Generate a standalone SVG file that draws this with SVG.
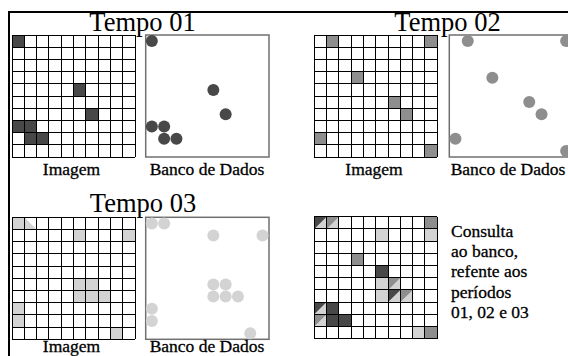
<svg xmlns="http://www.w3.org/2000/svg" xmlns:xlink="http://www.w3.org/1999/xlink" width="568" height="356" viewBox="0 0 568 356">
<style>
.d{fill:#484848}
.m{fill:#8e8e8e}
.l{fill:#d3d3d3}
.t{font-family:"Liberation Serif","Times New Roman",serif;fill:#000}
.title{font-size:26.5px;text-anchor:middle}
.lab{font-size:17.5px;text-anchor:middle;stroke:#000;stroke-width:0.3}
.txt{font-size:17.5px;stroke:#000;stroke-width:0.3}
.box{fill:#fff;stroke:#707070;stroke-width:1.5}
</style>
<defs>
<path id="grid" fill="none" stroke="#000" stroke-width="1" shape-rendering="crispEdges" d="M0,0V122M12.3,0V122M24.6,0V122M36.9,0V122M49.2,0V122M61.5,0V122M73.8,0V122M86.1,0V122M98.4,0V122M110.7,0V122M123,0V122M0,0H123M0,12.2H123M0,24.4H123M0,36.6H123M0,48.8H123M0,61H123M0,73.2H123M0,85.4H123M0,97.6H123M0,109.8H123M0,122H123"/>
<rect id="c" width="12.3" height="12.2"/>
<path id="tul" d="M0,0H12.3L0,12.2Z"/>
<path id="tll" d="M0,0L12.3,12.2H0Z"/>
<circle id="p" r="6"/>
</defs>
<rect width="568" height="356" fill="#fff"/>
<path d="M9,356V12H568" fill="none" stroke="#000" stroke-width="2"/>

<g id="tempo01">
<text class="t title" x="142.5" y="31">Tempo 01</text>
<g id="tempo01-imagem" transform="translate(12,35)">
<rect width="123" height="122" fill="#fff"/>
<use href="#c" class="d" x="0" y="0"/>
<use href="#c" class="d" x="61.5" y="48.8"/>
<use href="#c" class="d" x="73.8" y="73.2"/>
<use href="#c" class="d" x="0" y="85.4"/>
<use href="#c" class="d" x="12.3" y="85.4"/>
<use href="#c" class="d" x="12.3" y="97.6"/>
<use href="#c" class="d" x="24.6" y="97.6"/>
<use href="#grid"/>
</g>
<g id="tempo01-banco" transform="translate(145.7,35)">
<rect class="box" width="123.3" height="122"/>
<g class="d">
<use href="#p" x="6.15" y="6.1"/>
<use href="#p" x="67.65" y="54.9"/>
<use href="#p" x="79.95" y="79.3"/>
<use href="#p" x="6.15" y="91.5"/>
<use href="#p" x="18.45" y="91.5"/>
<use href="#p" x="18.45" y="103.7"/>
<use href="#p" x="30.75" y="103.7"/>
</g>
</g>
<text class="t lab" x="71.5" y="175.3">Imagem</text>
<text class="t lab" x="207" y="175.3">Banco de Dados</text>
</g>

<g id="tempo02">
<text class="t title" x="447.5" y="31">Tempo 02</text>
<g id="tempo02-imagem" transform="translate(314.3,35)">
<rect width="123" height="122" fill="#fff"/>
<g class="m">
<use href="#c" x="12.3" y="0"/>
<use href="#c" x="110.7" y="0"/>
<use href="#c" x="36.9" y="36.6"/>
<use href="#c" x="73.8" y="61"/>
<use href="#c" x="86.1" y="73.2"/>
<use href="#c" x="0" y="97.6"/>
<use href="#c" x="110.7" y="109.8"/>
</g>
<use href="#grid"/>
</g>
<g id="tempo02-banco" transform="translate(449.3,35)">
<rect class="box" width="123" height="122"/>
<g class="m">
<use href="#p" x="18.45" y="6.1"/>
<use href="#p" x="116.85" y="6.1"/>
<use href="#p" x="43.05" y="42.7"/>
<use href="#p" x="79.95" y="67.1"/>
<use href="#p" x="92.25" y="79.3"/>
<use href="#p" x="6.15" y="103.7"/>
<use href="#p" x="116.85" y="115.9"/>
</g>
</g>
<text class="t lab" x="374" y="175.3">Imagem</text>
<text class="t lab" x="508" y="175.3">Banco de Dados</text>
</g>

<g id="tempo03">
<text class="t title" x="143" y="212.3">Tempo 03</text>
<g id="tempo03-imagem" transform="translate(12,217.3)">
<rect width="123" height="122" fill="#fff"/>
<g class="l">
<use href="#c" x="0" y="0"/>
<use href="#tll" x="12.3" y="0"/>
<use href="#c" x="61.5" y="12.2"/>
<use href="#c" x="110.7" y="12.2"/>
<use href="#c" x="61.5" y="61"/>
<use href="#c" x="73.8" y="61"/>
<use href="#c" x="61.5" y="73.2"/>
<use href="#c" x="73.8" y="73.2"/>
<use href="#c" x="86.1" y="73.2"/>
<use href="#c" x="0" y="85.4"/>
<use href="#c" x="0" y="97.6"/>
<use href="#c" x="98.4" y="109.8"/>
</g>
<use href="#grid"/>
</g>
<g id="tempo03-banco" transform="translate(145.7,217.3)">
<rect class="box" width="123.3" height="122"/>
<g class="l">
<use href="#p" x="6.15" y="6.1"/>
<use href="#p" x="18.45" y="6.1"/>
<use href="#p" x="67.65" y="18.3"/>
<use href="#p" x="116.85" y="18.3"/>
<use href="#p" x="67.65" y="67.1"/>
<use href="#p" x="79.95" y="67.1"/>
<use href="#p" x="67.65" y="79.3"/>
<use href="#p" x="79.95" y="79.3"/>
<use href="#p" x="92.25" y="79.3"/>
<use href="#p" x="6.15" y="91.5"/>
<use href="#p" x="6.15" y="103.7"/>
<use href="#p" x="104.55" y="115.9"/>
</g>
</g>
<text class="t lab" x="71.5" y="351.5">Imagem</text>
<text class="t lab" x="207" y="351.5">Banco de Dados</text>
</g>

<g id="consulta">
<g id="consulta-imagem" transform="translate(314.3,216.7)">
<rect width="123" height="122" fill="#fff"/>
<g class="l">
<use href="#c" x="0" y="0"/>
<use href="#c" x="12.3" y="0"/>
<use href="#c" x="73.8" y="61"/>
<use href="#c" x="73.8" y="73.2"/>
<use href="#c" x="86.1" y="73.2"/>
<use href="#c" x="0" y="85.4"/>
<use href="#c" x="0" y="97.6"/>
<use href="#c" x="61.5" y="12.2"/>
<use href="#c" x="110.7" y="12.2"/>
<use href="#c" x="61.5" y="61"/>
<use href="#c" x="61.5" y="73.2"/>
<use href="#c" x="98.4" y="109.8"/>
</g>
<g class="m">
<use href="#c" x="110.7" y="0"/>
<use href="#c" x="36.9" y="36.6"/>
<use href="#c" x="110.7" y="109.8"/>
<use href="#tul" x="12.3" y="0"/>
<use href="#tul" x="73.8" y="61"/>
<use href="#tul" x="86.1" y="73.2"/>
<use href="#tul" x="0" y="97.6"/>
</g>
<g class="d">
<use href="#c" x="61.5" y="48.8"/>
<use href="#c" x="12.3" y="85.4"/>
<use href="#c" x="12.3" y="97.6"/>
<use href="#c" x="24.6" y="97.6"/>
<use href="#tul" x="0" y="0"/>
<use href="#tul" x="73.8" y="73.2"/>
<use href="#tul" x="0" y="85.4"/>
</g>
<use href="#grid"/>
</g>
<text class="t txt" x="451" y="236.7">Consulta</text>
<text class="t txt" x="451" y="257">ao banco,</text>
<text class="t txt" x="451" y="277">refente aos</text>
<text class="t txt" x="451" y="297.5">períodos</text>
<text class="t txt" x="451" y="318">01, 02 e 03</text>
</g>

<g id="connectors"/>
</svg>
